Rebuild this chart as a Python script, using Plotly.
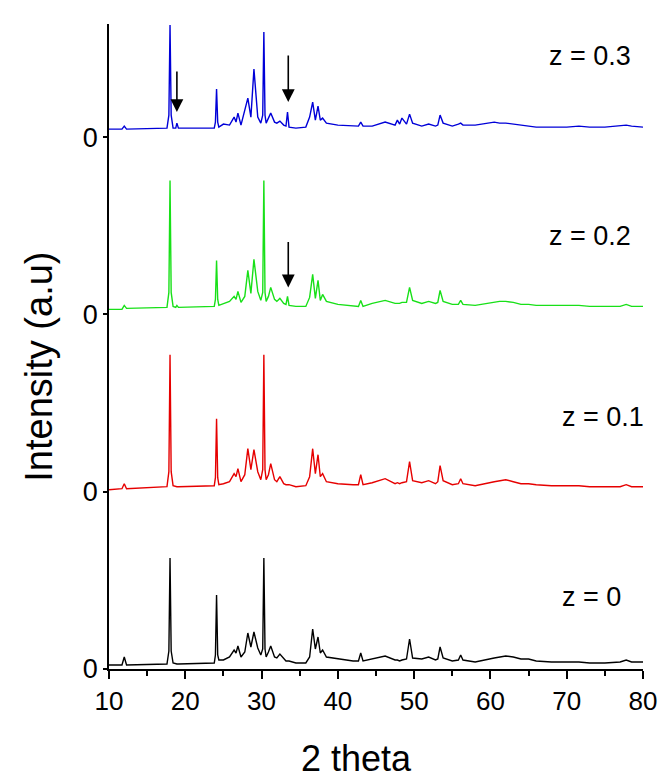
import plotly.graph_objects as go

# 2-theta positions of traced points (shared by all four patterns)
TWO_THETA = [10.0, 11.7, 12.0, 12.3, 17.6, 17.85, 18.0, 18.15, 18.4, 18.75, 18.9, 19.1,
             23.8, 23.95, 24.1, 24.25, 24.4, 25.0, 25.8, 26.4, 26.65, 26.9, 27.3, 27.8,
             28.2, 28.6, 29.0, 29.5, 29.9, 30.15, 30.3, 30.45, 30.6, 30.9, 31.2, 31.7,
             32.0, 32.4, 32.9, 33.2, 33.4, 33.6, 34.5, 35.8, 36.3, 36.7, 37.05, 37.4,
             37.7, 38.0, 38.5, 40.0, 42.0, 42.7, 43.0, 43.3, 44.5, 46.2, 47.5, 47.8,
             48.1, 48.4, 49.0, 49.4, 49.8, 51.0, 51.9, 52.8, 53.1, 53.4, 53.8, 55.0,
             55.8, 56.1, 56.4, 58.0, 60.5, 61.2, 62.0, 63.0, 64.0, 65.0, 66.0, 68.0,
             70.0, 71.6, 73.0, 75.0, 77.0, 77.8, 78.5, 80.0]

# intensities (a.u.) of each pattern above its own zero
I_Z0 = [4, 4, 12, 4, 5, 18, 111, 18, 6, 5, 5, 5,
        6, 14, 74, 14, 9, 9, 12, 19, 16, 23, 12, 17,
        36, 22, 37, 21, 14, 20, 111, 20, 12, 17, 23, 12,
        11, 15, 10, 8, 8, 8, 6, 6, 12, 40, 20, 32,
        16, 19, 12, 10, 8, 8, 16, 8, 10, 13, 9, 9,
        8, 9, 10, 30, 11, 10, 12, 9, 10, 22, 11, 8,
        9, 14, 9, 7, 11, 12, 13, 12, 10, 10, 8, 7,
        7, 7, 6, 6, 7, 9, 7, 7]
I_Z01 = [2, 3, 8, 3, 5, 20, 137, 20, 6, 5, 5, 5,
         6, 14, 73, 14, 7, 8, 10, 18, 15, 23, 10, 17,
         43, 22, 42, 20, 12, 22, 137, 22, 12, 17, 28, 12,
         10, 15, 8, 7, 7, 7, 5, 6, 15, 43, 18, 37,
         15, 18, 10, 8, 7, 7, 17, 7, 9, 13, 8, 9,
         8, 9, 10, 30, 11, 9, 11, 8, 10, 26, 11, 7,
         8, 13, 8, 6, 10, 11, 12, 10, 8, 8, 7, 6,
         6, 6, 5, 5, 5, 7, 5, 5]
I_Z02 = [5, 5, 9, 6, 7, 22, 134, 22, 8, 7, 9, 7,
         8, 15, 54, 15, 9, 11, 13, 18, 15, 23, 12, 18,
         44, 21, 55, 23, 14, 22, 134, 22, 13, 18, 27, 15,
         13, 16, 11, 10, 18, 9, 8, 8, 17, 40, 16, 34,
         14, 20, 13, 10, 8, 8, 14, 8, 11, 14, 11, 11,
         11, 12, 12, 27, 14, 11, 13, 11, 12, 24, 13, 10,
         10, 14, 10, 9, 12, 13, 13, 12, 10, 10, 9, 9,
         9, 9, 8, 8, 8, 10, 8, 8]
I_Z03 = [8, 8, 11, 8, 9, 22, 112, 22, 9, 9, 14, 9,
         9, 15, 48, 15, 10, 13, 12, 20, 15, 24, 12, 27,
         39, 20, 68, 20, 14, 22, 105, 22, 14, 19, 24, 15,
         14, 16, 12, 11, 25, 10, 9, 10, 20, 35, 17, 31,
         17, 19, 14, 12, 11, 11, 15, 11, 11, 15, 12, 17,
         13, 19, 13, 23, 14, 11, 13, 11, 12, 22, 14, 11,
         13, 14, 12, 12, 15, 14, 14, 13, 12, 11, 10, 10,
         10, 11, 10, 10, 11, 12, 11, 10]

SERIES_NAMES = ["z = 0", "z = 0.1", "z = 0.2", "z = 0.3"]
SERIES_DATA = [I_Z0, I_Z01, I_Z02, I_Z03]
SERIES_COLORS = ["#000000", "#e60000", "#18e018", "#0000d8"]
OFFSETS = [0.0, 177.3, 354.6, 531.9]

# label positions (2theta, intensity above own zero)
LABEL_X = [73.2, 74.7, 73.1, 73.1]
LABEL_Y = [72, 75, 78, 81]

# arrows: series index, 2theta, tip and tail intensities (above own zero)
ARROW_SERIES = [3, 3, 2]
ARROW_2THETA = [18.9, 33.5, 33.5]
ARROW_TIP = [25, 35, 27]
ARROW_TAIL = [67, 83, 74]

FONT = "Arial, Liberation Sans, sans-serif"

fig = go.Figure()
for name, data, color, off in zip(SERIES_NAMES, SERIES_DATA, SERIES_COLORS, OFFSETS):
    fig.add_trace(go.Scatter(
        x=TWO_THETA, y=[v + off for v in data], mode="lines", name=name,
        line=dict(color=color, width=1.4), showlegend=False,
    ))

annotations = []
for name, lx, ly, off in zip(SERIES_NAMES, LABEL_X, LABEL_Y, OFFSETS):
    annotations.append(dict(
        x=lx, y=ly + off, xref="x", yref="y", text=name, showarrow=False,
        font=dict(family=FONT, size=27, color="black"), xanchor="center", yanchor="middle",
    ))
for si, ax_, tip, tail in zip(ARROW_SERIES, ARROW_2THETA, ARROW_TIP, ARROW_TAIL):
    annotations.append(dict(
        x=ax_, y=tip + OFFSETS[si], ax=ax_, ay=tail + OFFSETS[si],
        xref="x", yref="y", axref="x", ayref="y", text="", showarrow=True,
        arrowhead=2, arrowsize=1.6, arrowwidth=1.6, arrowcolor="black", standoff=0,
    ))
annotations.append(dict(
    x=0.464, y=-0.138, xref="paper", yref="paper", xanchor="center", yanchor="middle",
    text="2 theta", showarrow=False, font=dict(family=FONT, size=36, color="black"),
))
annotations.append(dict(
    x=-0.13, y=0.468, xref="paper", yref="paper", xanchor="center", yanchor="middle",
    text="Intensity (a.u)", showarrow=False, textangle=-90,
    font=dict(family=FONT, size=38, color="black"),
))

fig.update_layout(
    width=672, height=783,
    margin=dict(l=109, r=29, t=24, b=114),
    paper_bgcolor="white", plot_bgcolor="white",
    annotations=annotations,
)
fig.update_xaxes(
    range=[10, 80], tickvals=[10, 20, 30, 40, 50, 60, 70, 80],
    ticks="outside", ticklen=8, tickwidth=1.5, tickcolor="black",
    minor=dict(dtick=5, tick0=15, ticks="outside", ticklen=5, tickwidth=1.5, tickcolor="black"),
    showline=True, linecolor="black", linewidth=1.5, showgrid=False, zeroline=False,
    tickfont=dict(family=FONT, size=26, color="black"),
)
fig.update_yaxes(
    range=[0, 645], tickvals=OFFSETS, ticktext=["0"] * 4,
    ticks="outside", ticklen=4, tickwidth=1.5, tickcolor="black",
    showline=True, linecolor="black", linewidth=1.5, showgrid=False, zeroline=False,
    tickfont=dict(family=FONT, size=27, color="black"),
)
fig.write_html("out.html")
